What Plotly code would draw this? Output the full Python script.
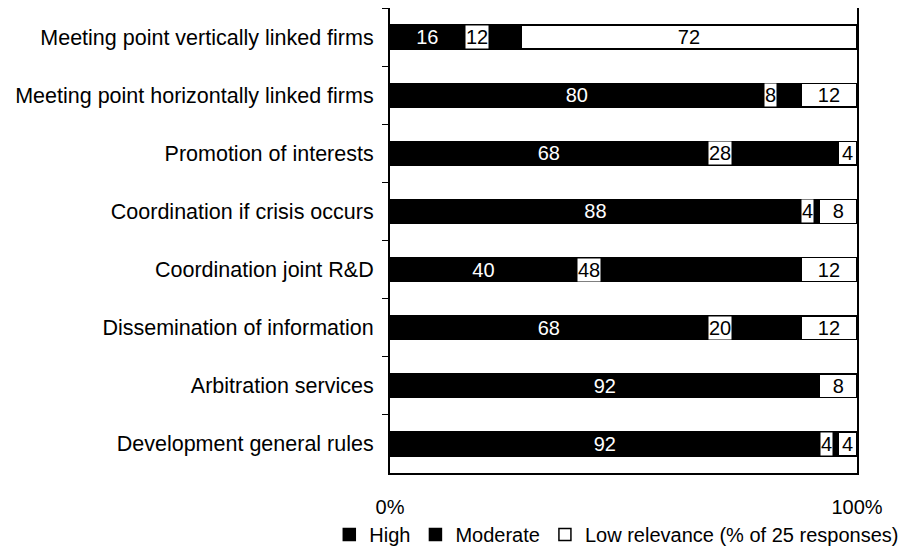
import plotly.graph_objects as go

categories = [
    "Meeting point vertically linked firms",
    "Meeting point horizontally linked firms",
    "Promotion of interests",
    "Coordination if crisis occurs",
    "Coordination joint R&D",
    "Dissemination of information",
    "Arbitration services",
    "Development general rules",
]
high = [16, 80, 68, 88, 40, 68, 92, 92]
moderate = [12, 8, 28, 4, 48, 20, 0, 4]
low = [72, 12, 4, 8, 12, 12, 8, 4]
x_ticks = [0, 100]
x_tick_labels = ["0%", "100%"]

FONT = "Liberation Sans, Arial, sans-serif"

fig = go.Figure()
fig.add_trace(go.Bar(
    y=categories, x=high, orientation="h", name="High",
    marker=dict(color="black", line=dict(color="black", width=1.5)),
    text=[str(v) for v in high], textposition="inside", insidetextanchor="middle",
    textangle=0, constraintext="none",
    textfont=dict(color="white", size=20, family=FONT),
))
fig.add_trace(go.Bar(
    y=categories, x=moderate, orientation="h", name="Moderate",
    marker=dict(color="black", line=dict(color="black", width=1.5)),
    textposition="none",
))
fig.add_trace(go.Bar(
    y=categories, x=low, orientation="h", name="Low relevance (% of 25 responses)",
    marker=dict(color="white", line=dict(color="black", width=1.5)),
    text=[str(v) for v in low], textposition="inside", insidetextanchor="middle",
    textangle=0, constraintext="none",
    textfont=dict(color="black", size=20, family=FONT),
))

for c, h, m in zip(categories, high, moderate):
    if m > 0:
        fig.add_annotation(
            x=h, y=c, xref="x", yref="y", text=str(m), showarrow=False,
            xanchor="left", yanchor="middle", bgcolor="white", borderpad=0,
            font=dict(color="black", size=20, family=FONT),
        )

fig.update_layout(
    barmode="stack",
    bargap=0.59,
    width=893, height=538,
    margin=dict(l=382, r=44, t=0, b=73, autoexpand=False),
    plot_bgcolor="white", paper_bgcolor="white",
    font=dict(family=FONT, size=20, color="black"),
    uniformtext=dict(minsize=20, mode="show"),
    showlegend=True,
    legend=dict(orientation="h", x=-0.13, xanchor="left", y=-0.132, yanchor="middle",
                font=dict(size=20, family=FONT), traceorder="normal",
                bgcolor="rgba(0,0,0,0)", tracegroupgap=0, itemwidth=30),
)
fig.update_xaxes(
    range=[0, 100], tickvals=x_ticks, ticktext=x_tick_labels,
    showgrid=False, zeroline=False, showline=True, mirror=True,
    linecolor="black", linewidth=2, ticks="", ticklabelstandoff=15,
    tickfont=dict(size=20, family=FONT), automargin=False,
)
fig.update_yaxes(
    type="category", categoryorder="array", categoryarray=categories,
    autorange="reversed", showgrid=False, zeroline=False, showline=True, mirror=True,
    linecolor="black", linewidth=2, ticks="outside", tickson="boundaries",
    ticklen=6, tickcolor="black", tickwidth=1, ticklabelstandoff=10,
    tickfont=dict(size=21.5, family=FONT), automargin=False,
)

fig.write_html("out.html")
